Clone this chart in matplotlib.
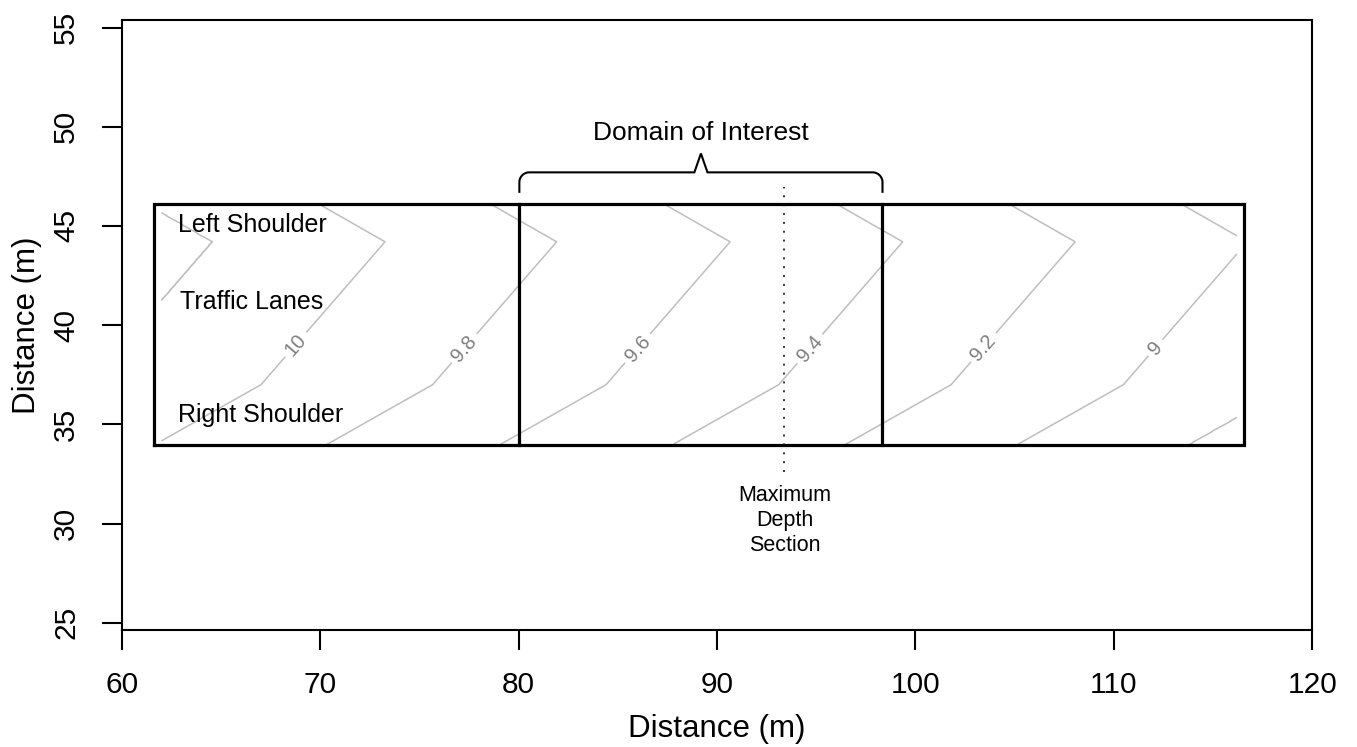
import numpy as np
import matplotlib
matplotlib.use("Agg")
import matplotlib.pyplot as plt

plt.rcParams['font.family'] = ['Liberation Sans', 'DejaVu Sans']

# ---- data ----
x_ticks = [60, 70, 80, 90, 100, 110, 120]
y_ticks = [25, 30, 35, 40, 45, 50, 55]

road_x = [61.63, 116.57]          # outer road section box
road_y = [33.96, 46.13]
domain_x = [80.04, 98.34]          # domain of interest boundaries
max_depth_x = 93.4                 # maximum depth section
max_depth_y = [32.6, 46.97]

grid_x = [62.0, 116.2]             # extent of the contoured surface
grid_y = [33.96, 46.13]

contour_levels = [10.2, 10.0, 9.8, 9.6, 9.4, 9.2, 9.0, 8.8]
crown_x = [64.54, 73.27, 81.92, 90.66, 99.36, 108.05, 116.73, 125.4]  # x of each level at y = 44.2
profile_y = [33.96, 37.0, 44.2, 46.13]       # cross-section break points
profile_dx = [-11.63, -6.25, 0.0, -3.38]     # contour x-offset at each break point

label_levels = [9.0, 9.2, 9.4, 9.6, 9.8, 10.0]
label_pos = [(111.7, 39.2), (103.1, 39.16), (94.27, 39.16),
             (85.62, 39.16), (76.88, 39.16), (68.33, 39.4)]

zone_labels = ["Left Shoulder", "Traffic Lanes", "Right Shoulder"]
zone_x = [62.85, 62.94, 62.85]
zone_y = [44.70, 40.79, 35.10]

brace_y = [46.72, 47.70, 48.65]    # bottom, bar, tip
brace_label = "Domain of Interest"
brace_label_y = 49.32

md_lines = ["Maximum", "Depth", "Section"]
md_y = [31.14, 29.88, 28.62]

# ---- figure ----
W, H = 1357, 747
fig = plt.figure(figsize=(W / 100, H / 100), dpi=100)
left_px, right_px, top_px, bot_px = 121.7, 1312.3, 20.0, 630.3
ax = fig.add_axes([left_px / W, (H - bot_px) / H, (right_px - left_px) / W, (bot_px - top_px) / H])
ax.set_xlim(60, 120)
ax.set_ylim(24.622, 55.378)

for s in ax.spines.values():
    s.set_linewidth(1.5)
ax.set_xticks(x_ticks)
ax.set_yticks(y_ticks)
ax.tick_params(axis='both', direction='out', length=14.4, width=1.5, labelsize=21.5, colors='black')
ax.tick_params(axis='x', pad=15)
ax.tick_params(axis='y', pad=15.5, labelrotation=90)
for lab in ax.get_yticklabels():
    lab.set_va('center')

# contour surface
gx = np.linspace(grid_x[0], grid_x[1], 1200)
gy = np.linspace(grid_y[0], grid_y[1], 500)
X, Y = np.meshgrid(gx, gy)
shift = np.interp(Y, profile_y, profile_dx)
Z = np.interp(X - shift, crown_x, contour_levels, left=10.4, right=8.6)
other_levels = sorted(set(contour_levels) - set(label_levels))
ax.contour(X, Y, Z, levels=other_levels, colors='#BEBEBE', linewidths=1.1)
cs = ax.contour(X, Y, Z, levels=label_levels, colors='#BEBEBE', linewidths=1.1)
ax.clabel(cs, manual=label_pos, inline=True, inline_spacing=5,
          fmt=lambda v: f"{v:g}", fontsize=14.5, colors='#7F7F7F')

# road box and domain lines
ax.plot([road_x[0], road_x[1], road_x[1], road_x[0], road_x[0]],
        [road_y[0], road_y[0], road_y[1], road_y[1], road_y[0]],
        color='black', lw=2.3, solid_joinstyle='miter', zorder=5)
for dx in domain_x:
    ax.plot([dx, dx], road_y, color='black', lw=2.3, zorder=5)

# maximum depth section
ax.plot([max_depth_x, max_depth_x], max_depth_y, color='black', lw=1.1,
        linestyle=(0, (1.3, 4.5)), zorder=4)
for t, yy in zip(md_lines, md_y):
    ax.text(max_depth_x, yy, t, ha='center', va='baseline', fontsize=15.5)

# brace
x0, x1 = domain_x
xc = 0.5 * (x0 + x1)
yb, yh, yp = brace_y
r, w = 0.5, 0.33
th1 = np.linspace(np.pi, np.pi / 2, 20)
th2 = np.linspace(np.pi / 2, 0, 20)
bx = np.concatenate([[x0], x0 + r + r * np.cos(th1), [xc - w, xc, xc + w],
                     x1 - r + r * np.cos(th2), [x1]])
by = np.concatenate([[yb], yh - r + r * np.sin(th1), [yh, yp, yh],
                     yh - r + r * np.sin(th2), [yb]])
ax.plot(bx, by, color='black', lw=1.5, solid_joinstyle='miter')
ax.text(xc, brace_label_y, brace_label, ha='center', va='baseline', fontsize=19)

for t, xx, yy in zip(zone_labels, zone_x, zone_y):
    ax.text(xx, yy, t, ha='left', va='baseline', fontsize=18)

# axis titles
fig.text(717 / W, (H - 737.3) / H, "Distance (m)", ha='center', va='baseline', fontsize=22.5)
fig.text(35 / W, (H - 325) / H, "Distance (m)", ha='center', va='baseline', rotation=90,
         rotation_mode='anchor', fontsize=22.5)

fig.savefig("out.png", dpi=100)
